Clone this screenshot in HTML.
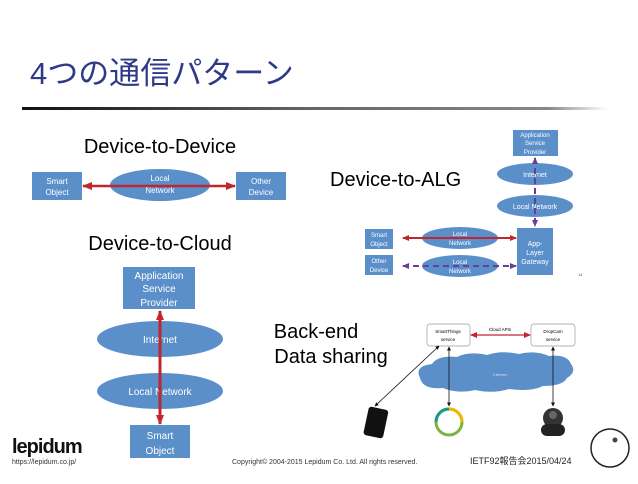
<!DOCTYPE html>
<html><head><meta charset="utf-8"><style>
body{margin:0;width:638px;height:479px;overflow:hidden;background:#fff;font-family:"Liberation Sans","Noto Sans CJK JP",sans-serif}
</style></head><body>
<svg width="638" height="479" viewBox="0 0 638 479" xmlns="http://www.w3.org/2000/svg" font-family="Liberation Sans, Noto Sans CJK JP, sans-serif">
<defs>
<linearGradient id="hl" x1="0" x2="1"><stop offset="0" stop-color="#111"/><stop offset="0.5" stop-color="#666"/><stop offset="0.9" stop-color="#888"/><stop offset="1" stop-color="#fff"/></linearGradient>
<marker id="ar" markerUnits="userSpaceOnUse" markerWidth="10" markerHeight="10" refX="9" refY="5" orient="auto-start-reverse"><path d="M0,1L10,5L0,9z" fill="#c0262d"/></marker>
<marker id="ars" markerUnits="userSpaceOnUse" markerWidth="7" markerHeight="7" refX="6" refY="3.5" orient="auto-start-reverse"><path d="M0,0.5L7,3.5L0,6.5z" fill="#c0262d"/></marker>
<marker id="ap" markerUnits="userSpaceOnUse" markerWidth="7" markerHeight="7" refX="6" refY="3.5" orient="auto-start-reverse"><path d="M0,0.5L7,3.5L0,6.5z" fill="#6a3d9a"/></marker>
<marker id="ak" markerUnits="userSpaceOnUse" markerWidth="4" markerHeight="4" refX="3.5" refY="2" orient="auto-start-reverse"><path d="M0,0L4,2L0,4z" fill="#111"/></marker>
</defs>
<text x="30" y="84" font-size="31" fill="#2e3a87">4つの通信パターン</text>
<rect x="22" y="107" width="585" height="3" fill="url(#hl)"/>

<text x="160" y="153" font-size="20" text-anchor="middle" fill="#000">Device-to-Device</text>
<rect x="32" y="172" width="50" height="28" fill="#5b8fc9"/>
<text x="57" y="184" font-size="8" fill="#fff" text-anchor="middle">Smart</text><text x="57" y="195" font-size="8" fill="#fff" text-anchor="middle">Object</text>
<ellipse cx="160" cy="185" rx="50" ry="16" fill="#5b8fc9"/>
<text x="160" y="181" font-size="8" fill="#fff" text-anchor="middle">Local</text><text x="160" y="193" font-size="8" fill="#fff" text-anchor="middle">Network</text>
<rect x="236" y="172" width="50" height="28" fill="#5b8fc9"/>
<text x="261" y="184" font-size="8" fill="#fff" text-anchor="middle">Other</text><text x="261" y="195" font-size="8" fill="#fff" text-anchor="middle">Device</text>
<line x1="83" y1="186" x2="235" y2="186" stroke="#c0262d" stroke-width="2.5" marker-start="url(#ar)" marker-end="url(#ar)"/>

<text x="160" y="250" font-size="20" text-anchor="middle">Device-to-Cloud</text>
<rect x="123" y="267" width="72" height="42" fill="#5b8fc9"/>
<text x="159" y="279" font-size="10" fill="#fff" text-anchor="middle">Application</text><text x="159" y="292" font-size="10" fill="#fff" text-anchor="middle">Service</text><text x="159" y="306" font-size="10" fill="#fff" text-anchor="middle">Provider</text>
<ellipse cx="160" cy="339" rx="63" ry="18" fill="#5b8fc9"/>
<text x="160" y="343" font-size="10" fill="#fff" text-anchor="middle">Internet</text>
<ellipse cx="160" cy="391" rx="63" ry="18" fill="#5b8fc9"/>
<text x="160" y="395" font-size="10" fill="#fff" text-anchor="middle">Local Network</text>
<rect x="130" y="425" width="60" height="33" fill="#5b8fc9"/>
<text x="160" y="439" font-size="10" fill="#fff" text-anchor="middle">Smart</text><text x="160" y="454" font-size="10" fill="#fff" text-anchor="middle">Object</text>
<line x1="160" y1="311" x2="160" y2="424" stroke="#c0262d" stroke-width="3" marker-start="url(#ar)" marker-end="url(#ar)"/>

<text x="330" y="186" font-size="20">Device-to-ALG</text>
<rect x="513" y="130" width="45" height="26" fill="#5b8fc9"/>
<text x="535" y="137" font-size="6" fill="#fff" text-anchor="middle">Application</text><text x="535" y="145" font-size="6" fill="#fff" text-anchor="middle">Service</text><text x="535" y="154" font-size="6" fill="#fff" text-anchor="middle">Provider</text>
<ellipse cx="535" cy="174" rx="38" ry="11" fill="#5b8fc9"/>
<text x="535" y="177" font-size="7" fill="#fff" text-anchor="middle">Internet</text>
<ellipse cx="535" cy="206" rx="38" ry="11" fill="#5b8fc9"/>
<text x="535" y="209" font-size="7" fill="#fff" text-anchor="middle">Local Network</text>
<line x1="535" y1="158" x2="535" y2="226" stroke="#6a3d9a" stroke-width="2" stroke-dasharray="6,4" marker-start="url(#ap)" marker-end="url(#ap)"/>
<rect x="517" y="228" width="36" height="47" fill="#5b8fc9"/>
<text x="535" y="246" font-size="7" fill="#fff" text-anchor="middle">App-</text><text x="535" y="255" font-size="7" fill="#fff" text-anchor="middle">Layer</text><text x="535" y="264" font-size="7" fill="#fff" text-anchor="middle">Gateway</text>
<rect x="365" y="229" width="28" height="20" fill="#5b8fc9"/>
<text x="379" y="237" font-size="6" fill="#fff" text-anchor="middle">Smart</text><text x="379" y="246" font-size="6" fill="#fff" text-anchor="middle">Object</text>
<rect x="365" y="255" width="28" height="20" fill="#5b8fc9"/>
<text x="379" y="263" font-size="6" fill="#fff" text-anchor="middle">Other</text><text x="379" y="272" font-size="6" fill="#fff" text-anchor="middle">Device</text>
<ellipse cx="460" cy="238" rx="38" ry="11" fill="#5b8fc9"/>
<text x="460" y="236" font-size="6" fill="#fff" text-anchor="middle">Local</text><text x="460" y="245" font-size="6" fill="#fff" text-anchor="middle">Network</text>
<ellipse cx="460" cy="266" rx="38" ry="11" fill="#5b8fc9"/>
<text x="460" y="264" font-size="6" fill="#fff" text-anchor="middle">Local</text><text x="460" y="273" font-size="6" fill="#fff" text-anchor="middle">Network</text>
<line x1="403" y1="238" x2="516" y2="238" stroke="#c0262d" stroke-width="2" marker-start="url(#ars)" marker-end="url(#ars)"/>
<line x1="403" y1="266" x2="516" y2="266" stroke="#6a3d9a" stroke-width="2" stroke-dasharray="6,4" marker-start="url(#ap)" marker-end="url(#ap)"/>
<text x="578" y="276" font-size="4" fill="#555">14</text>

<text x="316" y="338" font-size="20" text-anchor="middle">Back-end</text>
<text x="331" y="363" font-size="20" text-anchor="middle">Data sharing</text>
<path d="M420,378 q-6,-12 12,-14 q6,-9 25,-7 q12,-6 30,-2 q14,-5 32,-1 q16,-4 30,2 q18,-2 22,8 q6,8 -4,14 q-4,8 -24,8 q-12,6 -34,3 q-16,5 -34,1 q-18,4 -32,-2 q-20,2 -23,-10z" fill="#5b8fc9"/>
<text x="500" y="376" font-size="4" fill="#dde" text-anchor="middle">Internet</text>
<rect x="427" y="324" width="43" height="22" rx="3" fill="#fff" stroke="#999" stroke-width="0.7"/>
<text x="448" y="333" font-size="4.5" text-anchor="middle">SmartThings</text><text x="448" y="341" font-size="4.5" text-anchor="middle">service</text>
<rect x="531" y="324" width="44" height="22" rx="3" fill="#fff" stroke="#999" stroke-width="0.7"/>
<text x="553" y="333" font-size="4.5" text-anchor="middle">DropCam</text><text x="553" y="341" font-size="4.5" text-anchor="middle">service</text>
<text x="500" y="331" font-size="4.5" text-anchor="middle">Cloud APIs</text>
<line x1="471" y1="335" x2="530" y2="335" stroke="#c0262d" stroke-width="1.2" marker-start="url(#ars)" marker-end="url(#ars)"/>
<line x1="439" y1="346" x2="375" y2="406" stroke="#111" stroke-width="0.8" marker-start="url(#ak)" marker-end="url(#ak)"/>
<line x1="449" y1="347" x2="449" y2="406" stroke="#111" stroke-width="0.8" marker-start="url(#ak)" marker-end="url(#ak)"/>
<line x1="553" y1="347" x2="553" y2="406" stroke="#111" stroke-width="0.8" marker-start="url(#ak)" marker-end="url(#ak)"/>
<rect x="366" y="408" width="20" height="29" rx="3" fill="#111" transform="rotate(12 376 422)"/>
<circle cx="449" cy="422" r="13" fill="none" stroke="#7cb342" stroke-width="3"/>
<path d="M449,409 a13,13 0 0,1 13,13" fill="none" stroke="#f2b705" stroke-width="3"/>
<path d="M436,422 a13,13 0 0,1 13,-13" fill="none" stroke="#1a9a8a" stroke-width="3"/>
<circle cx="553" cy="418" r="10" fill="#333"/><rect x="541" y="424" width="24" height="12" rx="6" fill="#222"/>
<circle cx="553" cy="415" r="4" fill="#666"/>
<circle cx="610" cy="448" r="19" fill="none" stroke="#222" stroke-width="1.5"/>
<circle cx="615" cy="440" r="2.5" fill="#444"/>

<text x="12" y="453" font-size="20" font-weight="bold" fill="#111" letter-spacing="-1">lepidum</text>
<text x="12" y="464" font-size="7" fill="#333">https://lepidum.co.jp/</text>
<text x="232" y="464" font-size="7" fill="#333">Copyright© 2004-2015 Lepidum Co. Ltd. All rights reserved.</text>
<text x="470" y="464" font-size="9" fill="#222">IETF92報告会2015/04/24</text>
</svg>
</body></html>
